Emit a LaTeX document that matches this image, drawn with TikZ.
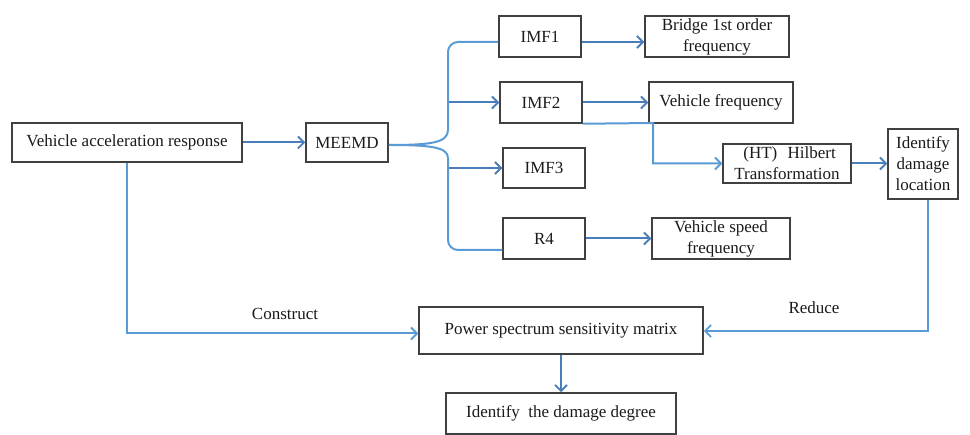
\documentclass[tikz,border=0pt]{standalone}
\usepackage{fontspec}
\setmainfont{Liberation Serif}
\usetikzlibrary{arrows.meta}
\definecolor{boxline}{HTML}{404040}
\definecolor{darkarr}{HTML}{4A7EBB}
\definecolor{lightarr}{HTML}{5B9BD5}
\definecolor{txt}{HTML}{1A1A1A}
\tikzset{
  box/.style={draw=boxline, line width=1.5pt, inner sep=0pt, align=center,
    text=txt, font=\fontsize{17}{21}\selectfont},
  darr/.style={draw=darkarr, line width=2pt, -{Straight Barb[length=6pt,width=12pt,line width=1.8pt]}},
  larr/.style={draw=lightarr, line width=2pt, -{Straight Barb[length=6pt,width=12pt,line width=1.8pt]}},
  lline/.style={draw=lightarr, line width=2pt},
  lbl/.style={text=txt, font=\fontsize{17}{21}\selectfont, inner sep=0pt}
}
\begin{document}
\begin{tikzpicture}[x=1pt,y=-1pt]
\useasboundingbox (0,0) rectangle (970,435);
% nodes
\node[box, minimum width=230pt, minimum height=39pt] (var) at (127,142.5) {Vehicle acceleration response};
\node[box, minimum width=82pt, minimum height=39pt] (meemd) at (347,142.5) {MEEMD};
\node[box, minimum width=82pt, minimum height=41pt] (imf1) at (540,36.5) {IMF1};
\node[box, minimum width=144pt, minimum height=41pt] (bf) at (717,36.5) {Bridge 1st order\\frequency};
\node[box, minimum width=82pt, minimum height=41pt] (imf2) at (541,102.5) {IMF2};
\node[box, minimum width=144pt, minimum height=41pt] (vf) at (721,102.5) {Vehicle frequency};
\node[box, minimum width=82pt, minimum height=40pt] (imf3) at (544,168) {IMF3};
\node[box, minimum width=82pt, minimum height=41pt] (r4) at (544,238.5) {R4};
\node[box, minimum width=138pt, minimum height=41pt] (vsf) at (721,238.5) {Vehicle speed\\frequency};
\node[box, minimum width=128pt, minimum height=39pt] (ht) at (787,163.5) {\hspace{0.3em}(HT)\hspace{0.6em}Hilbert\\Transformation};
\node[box, minimum width=70pt, minimum height=70pt] (idl) at (923,164) {Identify\\damage\\location};
\node[box, minimum width=284pt, minimum height=47pt] (pssm) at (561,330.5) {Power spectrum sensitivity matrix};
\node[box, minimum width=230pt, minimum height=41pt] (idd) at (561,413.5) {Identify\ \ the damage degree};
\node[lbl] (construct) at (285,314) {Construct};
\node[lbl] (reduce) at (814,308) {Reduce};
% coordinates for the branching brace
\coordinate (bu) at (448,130);
\coordinate (bl) at (448,158);
\coordinate (b2) at (448,102.5);
\coordinate (b3) at (448,168);
\coordinate (htc) at (653,123);
\coordinate (idlc) at (928,331);
% straight arrows
\draw[darr] (var.east) -- (meemd.west);
\draw[darr] (imf1.east |- 0,42) -- (bf.west |- 0,42);
\draw[darr] (imf2.east) -- (vf.west);
\draw[darr] (r4.east) -- (vsf.west);
\draw[darr] (b2) -- (imf2.west);
\draw[darr] (b3) -- (imf3.west);
\draw[darr] (ht.east) -- (idl.west |- ht.east);
\draw[darr] (pssm.south) -- (idd.north);
% brace
\draw[lline] ([yshift=-2.5pt]meemd.east) .. controls (430,145) and (448,143) .. (bu);
\draw[lline, rounded corners=10pt] (bu) |- ([yshift=-5.5pt]imf1.west);
\draw[lline] ([yshift=-2.5pt]meemd.east) .. controls (430,145) and (448,147) .. (bl);
\draw[lline, rounded corners=10pt] (bl) |- ([yshift=-11.5pt]r4.west);
% light connectors
\draw[larr] (imf2.south east) -- (htc) |- (ht.west);
\draw[larr] (idl.south -| idlc) -- (idlc) -- (pssm.east |- idlc);
\draw[larr] (var.south) |- ([yshift=-3pt]pssm.west);
\end{tikzpicture}
\end{document}
